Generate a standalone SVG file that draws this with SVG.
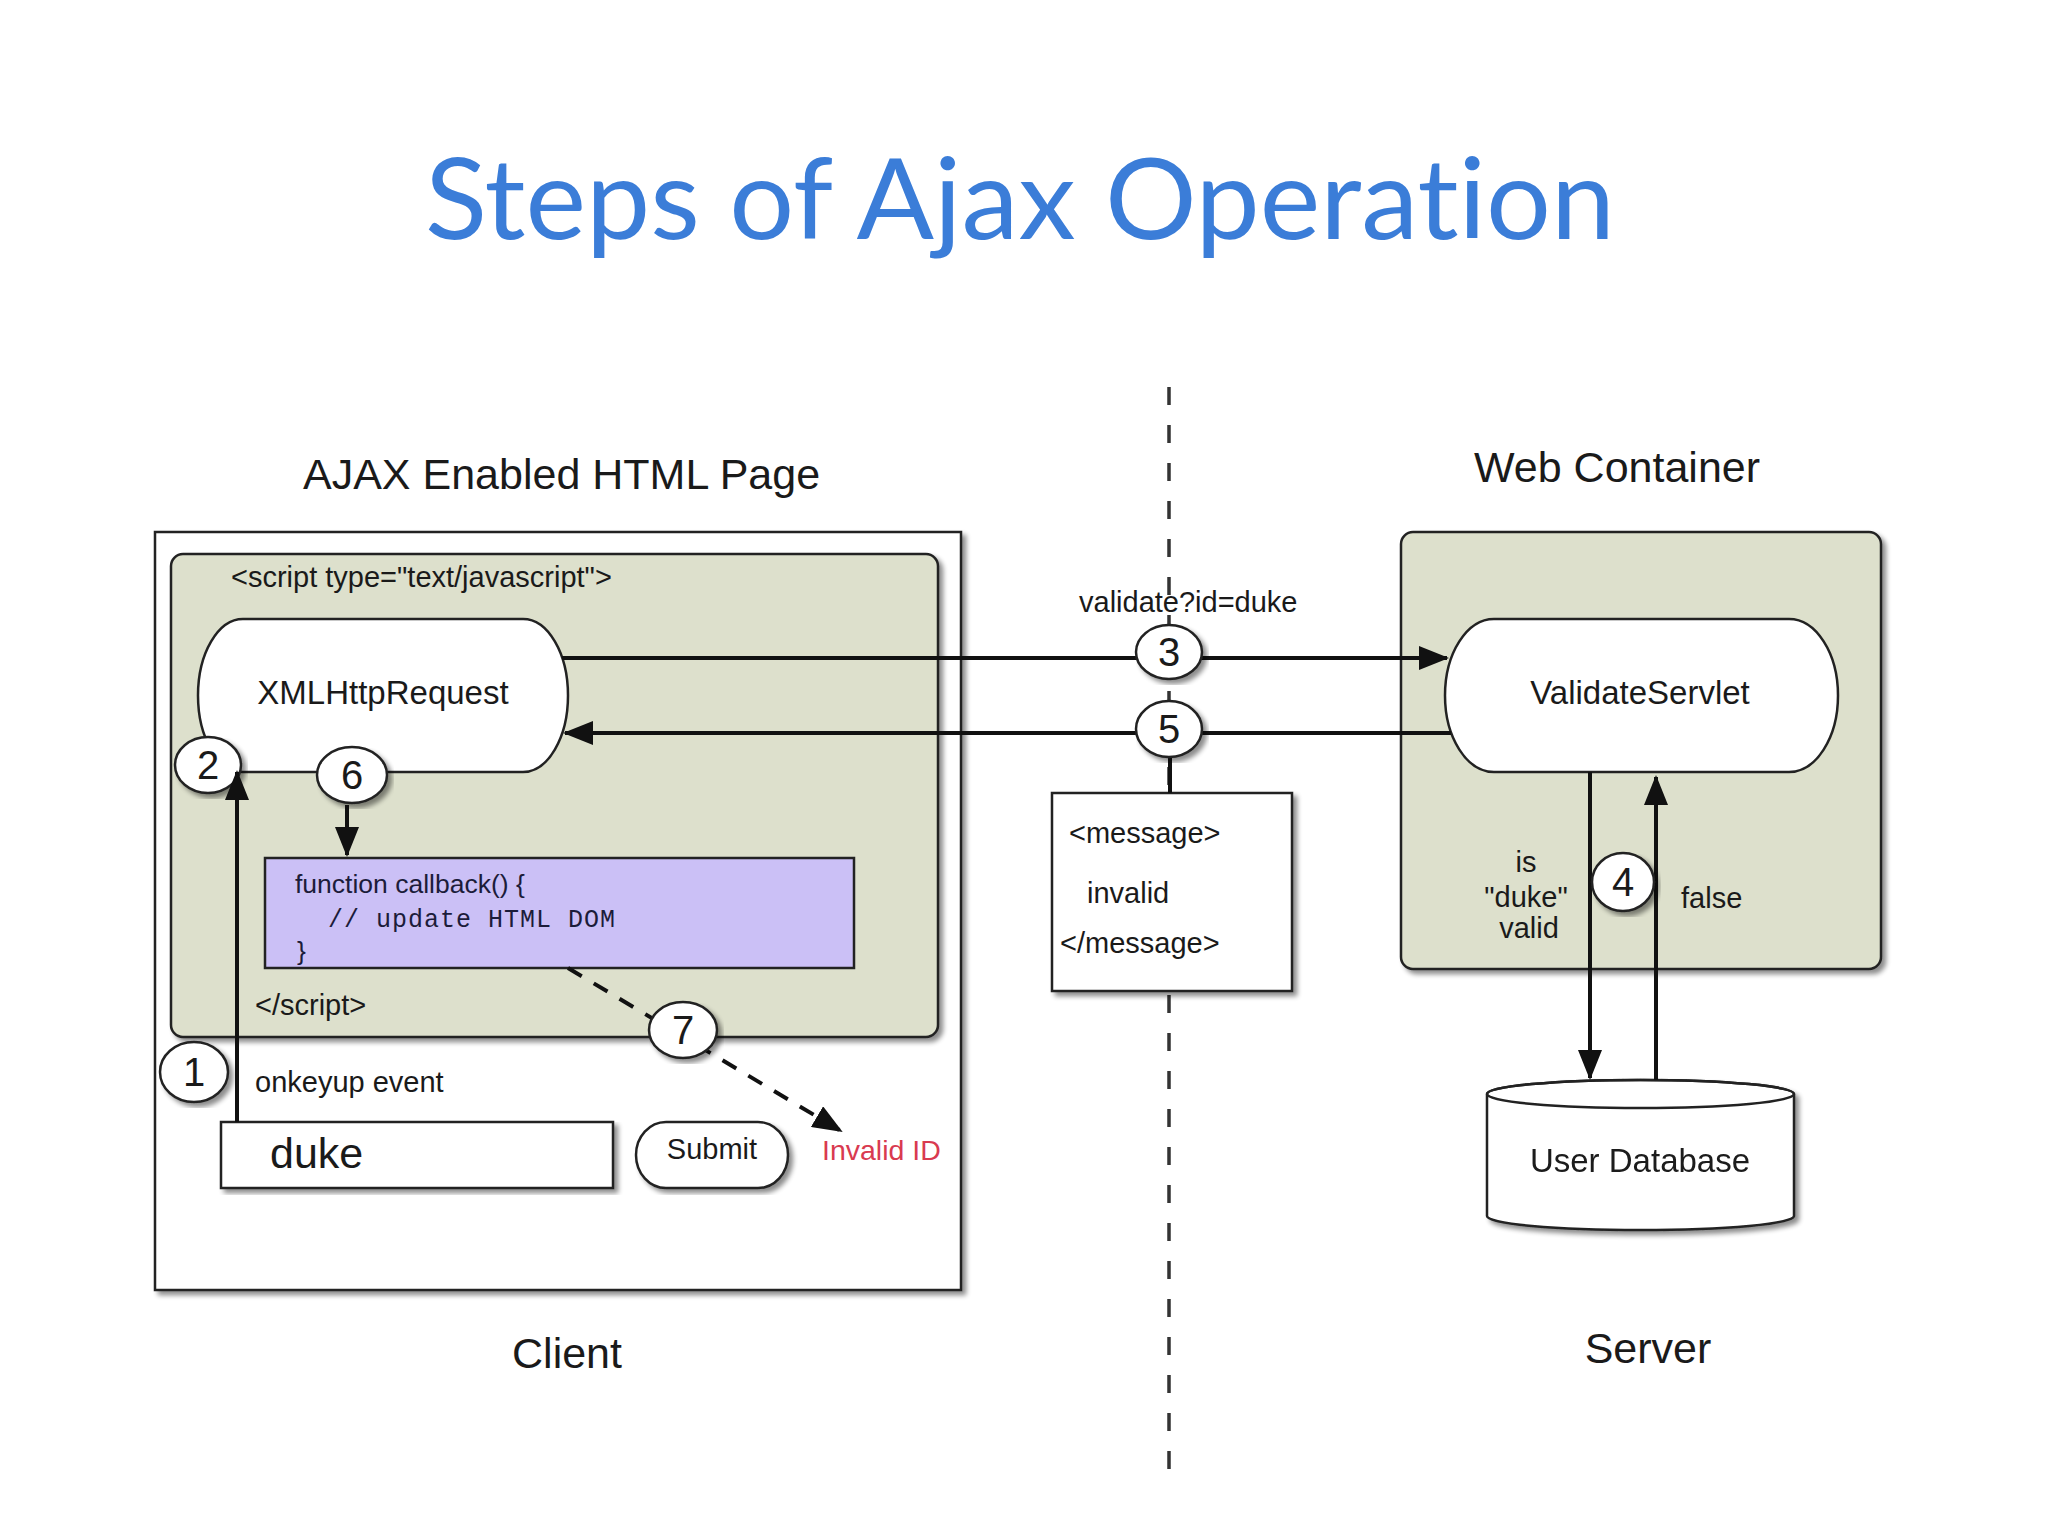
<svg xmlns="http://www.w3.org/2000/svg" width="2048" height="1536" viewBox="0 0 2048 1536">
<style>
  .t { font-family: "Liberation Sans", Arial, sans-serif; fill: #1a1a1a; }
  .big { font-size: 43px; }
  .node { font-size: 33px; }
  .sm { font-size: 29px; }
  .num { font-size: 40px; text-anchor: middle; }
  .box { stroke: #222; stroke-width: 2.5; }
  .green { fill: #dde0cc; }
  .white { fill: #ffffff; }
  .circ { fill: #ffffff; stroke: #222; stroke-width: 2.5; }
  .con { stroke: #111; stroke-width: 4; fill: none; }
  .title { font-family: Lato, "Open Sans", sans-serif; font-size: 112px; fill: #3b7dd8; font-variant-ligatures: none; font-feature-settings: "liga" 0, "dlig" 0; }
</style>
<defs>
  <marker id="ah" viewBox="0 0 30 24" refX="28" refY="12" markerWidth="30" markerHeight="24" markerUnits="userSpaceOnUse" orient="auto">
    <path d="M0,0 L30,12 L0,24 z" fill="#111"/>
  </marker>
  <filter id="sh" x="-5%" y="-5%" width="115%" height="115%">
    <feGaussianBlur in="SourceAlpha" stdDeviation="2.5"/>
    <feOffset dx="4" dy="4"/>
    <feComponentTransfer><feFuncA type="linear" slope="0.45"/></feComponentTransfer>
    <feMerge><feMergeNode/><feMergeNode in="SourceGraphic"/></feMerge>
  </filter>
</defs>
<rect width="2048" height="1536" fill="#ffffff"/>

<text class="title" x="1020" y="239" text-anchor="middle" textLength="1190" lengthAdjust="spacingAndGlyphs">Steps of Ajax Operation</text>

<!-- divider -->
<line x1="1169" y1="387" x2="1169" y2="1482" stroke="#333" stroke-width="3.5" stroke-dasharray="18 20"/>

<text class="t big" x="303" y="489">AJAX Enabled HTML Page</text>
<text class="t big" x="1474" y="482">Web Container</text>
<text class="t big" x="567" y="1368" text-anchor="middle">Client</text>
<text class="t big" x="1648" y="1363" text-anchor="middle">Server</text>

<g id="client-page">
  <rect class="box white" x="155" y="532" width="806" height="758" filter="url(#sh)"/>
</g>
<g id="script-block">
  <rect class="box green" x="171" y="554" width="767" height="483" rx="12" filter="url(#sh)"/>
  <text class="t sm" x="231" y="587">&lt;script type="text/javascript"&gt;</text>
  <text class="t sm" x="255" y="1015">&lt;/script&gt;</text>
</g>
<g id="xmlhttprequest">
  <rect class="box white" x="198" y="619" width="370" height="153" rx="45" ry="76.5"/>
  <text class="t node" x="383" y="704" text-anchor="middle">XMLHttpRequest</text>
</g>
<g id="callback">
  <rect class="box" x="265" y="858" width="589" height="110" fill="#cbc0f6"/>
  <text class="t" x="295" y="893" style="font-size:26.5px; fill:#1c1c3a;">function callback() {</text>
  <text x="328" y="927" textLength="287" lengthAdjust="spacing" style="font-family:'Liberation Mono', monospace; font-size:25px; fill:#1c1c3a;">// update HTML DOM</text>
  <text class="t" x="297" y="960" style="font-size:26.5px; fill:#1c1c3a;">}</text>
</g>
<g id="input-duke">
  <rect class="box white" x="221" y="1122" width="392" height="66" filter="url(#sh)"/>
  <text class="t" x="270" y="1168" style="font-size:43px;">duke</text>
</g>
<g id="submit">
  <rect class="box white" x="636" y="1122" width="152" height="66" rx="30" ry="33" filter="url(#sh)"/>
  <text class="t sm" x="712" y="1159" text-anchor="middle">Submit</text>
</g>
<g id="invalid-id">
  <text x="822" y="1160" style="font-family:'Liberation Sans', Arial, sans-serif; font-size:28.5px; fill:#d93a50;">Invalid ID</text>
</g>
<g id="onkeyup">
  <text class="t sm" x="255" y="1092">onkeyup event</text>
</g>
<g id="web-container">
  <rect class="box green" x="1401" y="532" width="480" height="437" rx="12" filter="url(#sh)"/>
</g>
<g id="validateservlet">
  <rect class="box white" x="1445" y="619" width="393" height="153" rx="49" ry="76.5"/>
  <text class="t node" x="1640" y="704" text-anchor="middle">ValidateServlet</text>
</g>
<g id="message">
  <rect class="box white" x="1052" y="793" width="240" height="198" filter="url(#sh)"/>
  <text class="t sm" x="1069" y="843">&lt;message&gt;</text>
  <text class="t sm" x="1087" y="903">invalid</text>
  <text class="t sm" x="1060" y="953">&lt;/message&gt;</text>
</g>
<g id="user-database" filter="url(#sh)">
  <path class="box white" d="M1487,1094 L1487,1216 A153.5,14 0 0 0 1794,1216 L1794,1094 A153.5,14 0 0 0 1487,1094 Z"/>
  <ellipse class="box" cx="1640.5" cy="1094" rx="153.5" ry="14" fill="none"/>
  <text class="t node" x="1640" y="1172" text-anchor="middle">User Database</text>
</g>
<g id="label-validate">
  <text class="t sm" x="1079" y="612">validate?id=duke</text>
</g>
<g id="label-valid">
  <text class="t sm" x="1526" y="872" text-anchor="middle">is</text>
  <text class="t sm" x="1526" y="907" text-anchor="middle">"duke"</text>
  <text class="t sm" x="1529" y="938" text-anchor="middle">valid</text>
  <text class="t sm" x="1681" y="908">false</text>
</g>

<g id="step-1"><ellipse class="circ" cx="194" cy="1072" rx="34" ry="30" filter="url(#sh)"/><text class="t num" x="194" y="1086">1</text></g>
<g id="step-2"><ellipse class="circ" cx="208" cy="765" rx="33" ry="28" filter="url(#sh)"/><text class="t num" x="208" y="779">2</text></g>
<g id="step-6"><ellipse class="circ" cx="352" cy="775" rx="35" ry="28" filter="url(#sh)"/><text class="t num" x="352" y="789">6</text></g>

<g id="connectors">
  <line class="con" x1="237" y1="1122" x2="237" y2="772" marker-end="url(#ah)"/>
  <line class="con" x1="347" y1="805" x2="347" y2="855" marker-end="url(#ah)"/>
  <line class="con" x1="562" y1="658" x2="1447" y2="658" marker-end="url(#ah)"/>
  <line class="con" x1="1451" y1="733" x2="565" y2="733" marker-end="url(#ah)"/>
  <line class="con" x1="1170" y1="755" x2="1170" y2="793"/>
  <line class="con" x1="1590" y1="772" x2="1590" y2="1078" marker-end="url(#ah)"/>
  <line class="con" x1="1656" y1="1080" x2="1656" y2="777" marker-end="url(#ah)"/>
  <line class="con" x1="568" y1="968" x2="841" y2="1131" stroke-dasharray="16 14" marker-end="url(#ah)"/>
</g>

<g id="step-3"><ellipse class="circ" cx="1169" cy="652" rx="33" ry="27" filter="url(#sh)"/><text class="t num" x="1169" y="666">3</text></g>
<g id="step-5"><ellipse class="circ" cx="1169" cy="729" rx="33" ry="28" filter="url(#sh)"/><text class="t num" x="1169" y="743">5</text></g>
<g id="step-4"><ellipse class="circ" cx="1623" cy="882" rx="31" ry="29" filter="url(#sh)"/><text class="t num" x="1623" y="896">4</text></g>
<g id="step-7"><ellipse class="circ" cx="683" cy="1030" rx="34" ry="28" filter="url(#sh)"/><text class="t num" x="683" y="1044">7</text></g>
</svg>
